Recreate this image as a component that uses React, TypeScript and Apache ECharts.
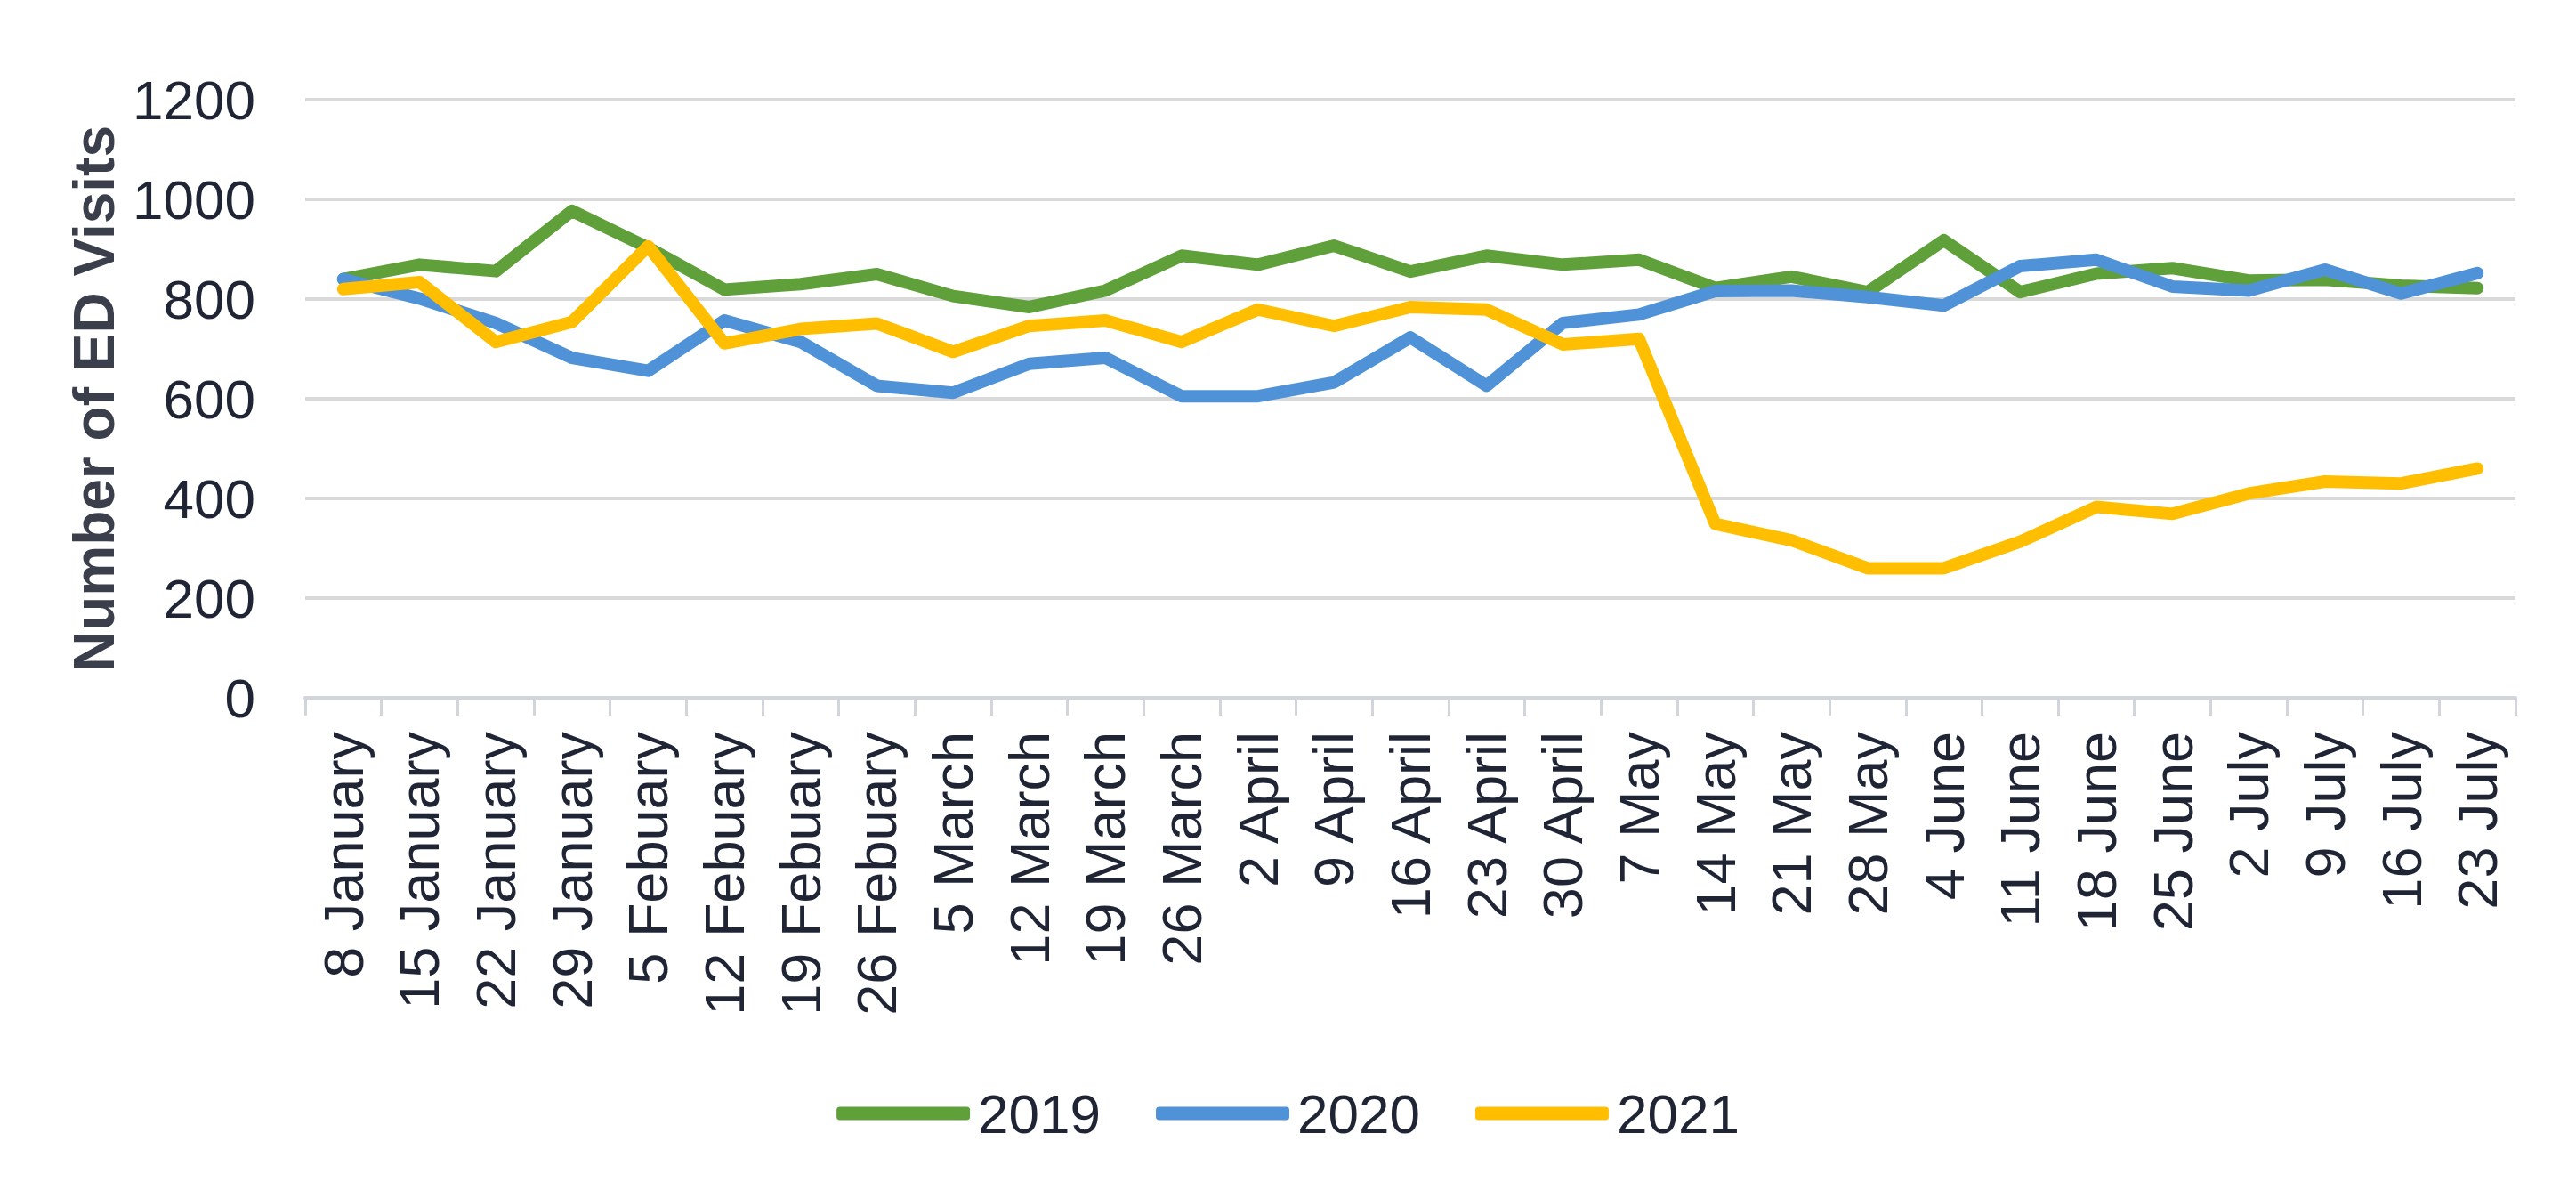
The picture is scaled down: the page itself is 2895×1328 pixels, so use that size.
import React, { useEffect, useRef } from "react";
import * as echarts from "echarts";

const categories = [
  "8 January", "15 January", "22 January", "29 January",
  "5 Febuary", "12 Febuary", "19 Febuary", "26 Febuary",
  "5 March", "12 March", "19 March", "26 March",
  "2 April", "9 April", "16 April", "23 April", "30 April",
  "7 May", "14 May", "21 May", "28 May",
  "4 June", "11 June", "18 June", "25 June",
  "2 July", "9 July", "16 July", "23 July",
];

const seriesNames = ["2019", "2020", "2021"];

const values2019 = [
  840, 869, 856, 977, 903, 819, 830, 850, 806, 784, 817, 887, 869, 907, 855,
  887, 869, 879, 822, 845, 814, 918, 814, 851, 862, 837, 839, 827, 822,
];

const values2020 = [
  840, 801, 752, 682, 656, 757, 714, 626, 612, 670, 682, 605, 605, 633, 723,
  626, 752, 769, 816, 817, 804, 787, 866, 879, 825, 817, 859, 811, 852,
];

const values2021 = [
  820, 834, 714, 754, 906, 711, 740, 751, 694, 746, 757, 714, 779, 746, 784,
  779, 709, 720, 349, 316, 260, 260, 313, 383, 369, 410, 434, 430, 460,
];

const yTicks = { min: 0, max: 1200, interval: 200 };

const colors = ["#5fa03a", "#4f92d8", "#ffbf00"];

export default function App() {
  const ref = useRef<HTMLDivElement>(null);

  useEffect(() => {
    if (!ref.current) return;
    const chart = echarts.init(ref.current, undefined, { renderer: "svg" });
    const font = "'Liberation Sans', Arial, sans-serif";
    const data = [values2019, values2020, values2021];
    chart.setOption({
      animation: false,
      backgroundColor: "#ffffff",
      color: colors,
      grid: { left: 343, right: 68, top: 112, bottom: 544, containLabel: false },
      legend: {
        data: seriesNames,
        left: "center",
        top: 1215,
        itemWidth: 150,
        itemHeight: 15,
        itemGap: 62,
        icon: "roundRect",
        textStyle: {
          fontFamily: font,
          fontSize: 62,
          lineHeight: 62,
          color: "#1f2535",
          padding: [0, 0, 0, 4],
        },
      },
      xAxis: {
        type: "category",
        data: categories,
        boundaryGap: true,
        axisLine: { show: true, lineStyle: { color: "#d2d5dc", width: 4 } },
        axisTick: { show: true, length: 20, lineStyle: { color: "#d2d5dc", width: 3 } },
        axisLabel: {
          rotate: 90,
          interval: 0,
          margin: 38,
          fontFamily: font,
          fontSize: 63,
          color: "#1f2535",
        },
        splitLine: { show: false },
      },
      yAxis: {
        type: "value",
        min: yTicks.min,
        max: yTicks.max,
        interval: yTicks.interval,
        name: "Number of ED Visits",
        nameLocation: "middle",
        nameGap: 196,
        nameRotate: 90,
        nameTextStyle: {
          fontFamily: font,
          fontSize: 64,
          fontWeight: "bold",
          color: "#3a3f4b",
        },
        axisLine: { show: false },
        axisTick: { show: false },
        axisLabel: {
          margin: 56,
          fontFamily: font,
          fontSize: 62,
          color: "#1f2535",
          formatter: (v: number) => String(v),
        },
        splitLine: { show: true, lineStyle: { color: "#d9d9d9", width: 4 } },
      },
      series: seriesNames.map((name, i) => ({
        name,
        type: "line",
        data: data[i],
        symbol: "none",
        showSymbol: false,
        lineStyle: { width: 14, color: colors[i], cap: "round", join: "round" },
        itemStyle: { color: colors[i] },
      })),
    });
    return () => chart.dispose();
  }, []);

  return (
    <div
      ref={ref}
      style={{ position: "fixed", left: 0, top: 0, width: 2895, height: 1328 }}
    />
  );
}
